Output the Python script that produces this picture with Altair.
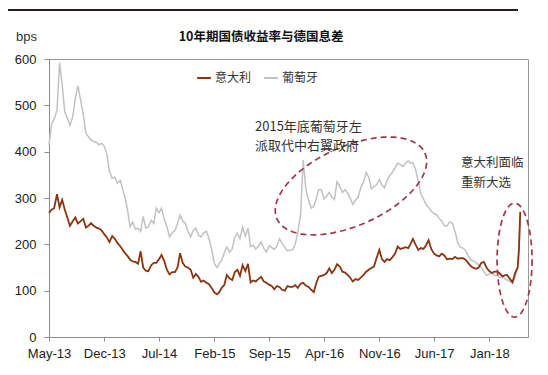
import altair as alt
import pandas as pd
import numpy as np

# ---- data (bps spread vs German Bund) ----
months = pd.period_range("2013-05", "2018-04", freq="M")
dates = []
for p in months:
    for d in (1, 11, 21):
        dates.append(f"{p.year}-{p.month:02d}-{d:02d}")
dates += ["2018-04-26", "2018-05-01"]

portugal = [
    414, 460, 470, 490, 592, 545, 486, 472, 457, 475, 515, 542, 510, 480, 440, 432, 425, 422, 420, 415, 418, 412, 395, 358,
    342, 345, 332, 338, 318, 298, 275, 238, 248, 232, 235, 228, 260, 235, 238, 252, 245, 278, 268, 278, 255, 238, 216, 225,
    230, 245, 263, 250, 246, 228, 216, 230, 235, 220, 216, 225,
    228, 212, 190, 158, 150, 160, 165, 182, 194, 183, 190, 215, 224, 212, 237, 218, 235, 195, 198, 190, 196, 205, 192, 183,
    197, 193, 189, 196, 212, 202, 194, 186, 187, 188, 200, 226,
    265, 382, 320, 295, 278, 282, 298, 318, 318, 298, 305, 312, 302, 297, 335, 325, 312, 318, 311, 300, 286, 295, 302, 322,
    335, 355, 345, 320, 325, 328, 340, 328, 322, 338, 348, 355,
    365, 375, 372, 368, 375, 380, 375, 376, 362, 335, 308, 298, 286, 280, 272, 266, 264, 256, 250, 240, 240, 248, 246, 228,
    203, 194, 192, 187, 175, 166, 164, 160, 155, 150, 141, 133,
    136, 138, 133, 133, 128, 130, 126, 123, 120, 117, 130, 150, 190, 262,
]
italy = [
    268, 275, 278, 308, 280, 296, 275, 258, 240, 250, 258, 245, 250, 255, 236, 240, 246, 240, 236, 234, 230, 222, 215, 205,
    218, 212, 203, 196, 188, 180, 175, 167, 163, 162, 158, 185, 150, 143, 142, 155, 160, 160, 168, 177, 165, 145, 135, 140,
    140, 150, 181, 160, 152, 150, 145, 128, 136, 130, 119, 122,
    117, 114, 106, 96, 92, 98, 106, 112, 134, 126, 123, 140, 145, 132, 155, 142, 158, 118, 122, 120, 125, 130, 120, 117,
    113, 110, 103, 110, 108, 102, 100, 110, 108, 108, 112, 106,
    115, 117, 111, 108, 102, 97, 115, 130, 132, 134, 138, 148, 138, 145, 157, 152, 141, 139, 134, 128, 120, 125, 123, 128,
    134, 141, 145, 149, 152, 170, 188, 168, 162, 168, 166, 172,
    180, 195, 190, 192, 194, 192, 200, 212, 200, 188, 192, 190, 198, 209, 190, 180, 176, 174, 180, 176, 168, 169, 168, 173,
    169, 170, 170, 167, 160, 153, 149, 147, 150, 160, 162, 150,
    142, 138, 141, 141, 137, 131, 133, 134, 126, 118, 138, 150, 190, 270,
]
series_names = ["意大利", "葡萄牙"]
tick_dates = ["2013-05-01", "2013-12-01", "2014-07-01", "2015-02-01", "2015-09-01",
              "2016-04-01", "2016-11-01", "2017-06-01", "2018-01-01"]
y_ticks = [0, 100, 200, 300, 400, 500, 600]

# annotation ellipses (centre date, centre value)
ell_dates = ["2016-07-14", "2018-04-09"]
ell_values = [326, 166]

assert len(dates) == len(portugal) == len(italy)

df = pd.concat([
    pd.DataFrame({"date": dates, "value": portugal, "series": "葡萄牙"}),
    pd.DataFrame({"date": dates, "value": italy, "series": "意大利"}),
])

def ms(s):
    return int(pd.Timestamp(s, tz="UTC").value // 10**6)

FONT = "Liberation Sans"
CJK = "Noto Sans CJK SC"

x_enc = alt.X(
    "date:T",
    scale=alt.Scale(type="utc", domain=[ms("2013-05-01"), ms("2018-05-31")]),
    axis=alt.Axis(values=[ms(d) for d in tick_dates],
                  labelExpr="utcFormat(datum.value, '%b-%y')",
                  title=None, grid=False, labelPadding=6, tickSize=4,
                  labelFlush=False),
)
y_enc = alt.Y(
    "value:Q",
    scale=alt.Scale(domain=[0, 600], nice=False, zero=True),
    axis=alt.Axis(values=y_ticks, title=None, grid=False, tickSize=5, labelPadding=8),
)
color_enc = alt.Color(
    "series:N",
    scale=alt.Scale(domain=series_names, range=["#8a3511", "#c2c2c2"]),
    legend=alt.Legend(orient="none", legendX=147, legendY=11, direction="horizontal",
                      title=None, symbolType="stroke", symbolSize=190, symbolStrokeWidth=2,
                      labelFont=CJK, labelFontSize=12, labelColor="#333333",
                      columnPadding=8, labelOffset=3),
)

grey = alt.Chart(df[df.series == "葡萄牙"]).mark_line(strokeWidth=1.5).encode(
    x=x_enc, y=y_enc, color=color_enc)
brown = alt.Chart(df[df.series == "意大利"]).mark_line(strokeWidth=1.8).encode(
    x=x_enc, y=y_enc, color=color_enc)


def ellipse_path(rx, ry, rot_deg, n=90):
    th = np.radians(rot_deg)
    t = np.linspace(0, 2 * np.pi, n, endpoint=False)
    x = rx * np.cos(t)
    y = ry * np.sin(t)
    xr = x * np.cos(th) - y * np.sin(th)
    yr = x * np.sin(th) + y * np.cos(th)
    pts = [f"{a:.4f},{b:.4f}" for a, b in zip(xr, yr)]
    return "M" + " L".join(pts) + " Z"

ell_df = pd.DataFrame({"date": ell_dates, "value": ell_values})
ell1 = alt.Chart(ell_df.iloc[[0]]).mark_point(
    shape=ellipse_path(1.0, 0.488, -24), size=162 ** 2, filled=False,
    color="#9b3a48", strokeDash=[6, 4], strokeWidth=1.7, opacity=1,
).encode(x="date:T", y="value:Q")
ell2 = alt.Chart(ell_df.iloc[[1]]).mark_point(
    shape=ellipse_path(0.307, 1.0, 0), size=114 ** 2, filled=False,
    color="#9b3a48", strokeDash=[6, 4], strokeWidth=1.7, opacity=1,
).encode(x="date:T", y="value:Q")

one = pd.DataFrame({"a": [0]})

def label(text, x, y, size=13, weight="normal", align="left", font=CJK, color="#333333"):
    return alt.Chart(one).mark_text(
        text=text, align=align, baseline="middle", fontSize=size, fontWeight=weight,
        font=font, color=color,
    ).encode(x=alt.value(x), y=alt.value(y))

title = label("10年期国债收益率与德国息差", 212, -22, size=12.5, weight="bold", align="center", color="#111111")
bps = label("bps", -33, -22, size=13, font=FONT, color="#333333")
ann1a = label("2015年底葡萄牙左", 206, 68, size=13)
ann1b = label("派取代中右翼政府", 206, 87, size=13)
ann2a = label("意大利面临", 412, 104, size=12.5)
ann2b = label("重新大选", 412, 124, size=12.5)

top_rule = alt.Chart(one).mark_rule(color="#2b1b1b", strokeWidth=2).encode(
    x=alt.value(-41), x2=alt.value(469), y=alt.value(-49))

chart = alt.layer(
    grey, brown, ell1, ell2, title, bps, ann1a, ann1b, ann2a, ann2b, top_rule
).properties(
    width=479, height=278,
    autosize=alt.AutoSizeParams(type="none"),
    padding={"left": 41, "top": 51, "right": 12, "bottom": 30},
    background="white",
).configure_view(
    stroke="#9a9a9a", strokeWidth=1,
).configure_axis(
    domainColor="#8c8c8c", tickColor="#8c8c8c", labelColor="#222222",
    labelFont=FONT, labelFontSize=13,
)

chart.save("out.html", embed_options={"renderer": "svg", "actions": False})
